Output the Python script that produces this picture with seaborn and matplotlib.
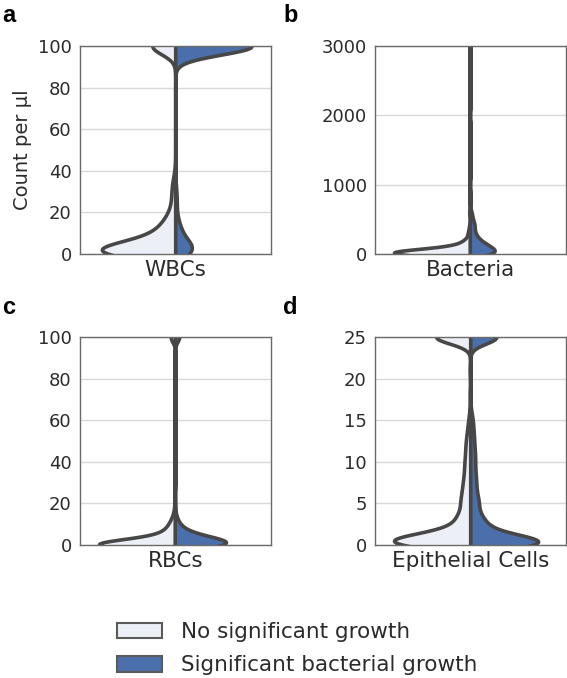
import numpy as np
import pandas as pd
import matplotlib
matplotlib.use("Agg")
import matplotlib.pyplot as plt
from matplotlib.patches import Patch
import seaborn as sns

# ---------------- data (counts per value) ----------------
groups = ["No significant growth", "Significant bacterial growth"]
colors = ["#ECEFF5", "#4B6FAA"]
edge_color = "#474747"

panel_letters = ["a", "b", "c", "d"]
measures = ["WBCs", "Bacteria", "RBCs", "Epithelial Cells"]
y_limits = [(0, 100), (0, 3000), (0, 100), (0, 25)]
y_ticks = [[0, 20, 40, 60, 80, 100], [0, 1000, 2000, 3000],
           [0, 20, 40, 60, 80, 100], [0, 5, 10, 15, 20, 25]]
kde_bw = [4, 50, 2.5, 0.8]

# WBCs
wbc_none_values = [0, 2, 4, 6, 8, 10, 12, 14, 16, 18, 20, 22, 24, 26, 28, 30, 32, 34, 37, 100]
wbc_none_counts = [36, 38, 18, 7, 6, 6, 5, 4, 3, 2, 2, 1, 1, 1, 1, 1, 1, 1, 1, 29]
wbc_sig_values = [0, 1, 2, 3, 4, 5, 6, 8, 10, 12, 15, 20, 25, 30, 96, 100,
                  120, 130, 140, 150, 160, 170, 180, 190, 200, 210, 220, 230]
wbc_sig_counts = [4, 4, 4, 4, 3, 2, 2, 2, 2, 2, 2, 1, 1, 1, 3, 100,
                  3, 3, 3, 3, 3, 3, 3, 3, 3, 3, 3, 3]

# Bacteria
bac_none_values = [0, 40, 100, 150, 200, 300, 400, 600, 1000, 2000, 3200]
bac_none_counts = [45, 35, 8, 4, 3, 2, 1, 1, 1, 1, 1]
bac_sig_values = [0, 50, 100, 150, 200, 250, 300, 350, 400, 450, 500, 550, 600,
                  4000, 5000, 6000, 8000, 10000]
bac_sig_counts = [14, 10, 9, 6, 4, 3, 2, 2, 2, 2, 1, 1, 1, 10, 10, 10, 10, 5]

# RBCs
rbc_none_values = [0, 2, 4, 6, 8, 10, 12, 14, 17, 20, 25, 100]
rbc_none_counts = [130, 22, 10, 9, 6, 4, 3, 2, 1, 1, 1, 9]
rbc_sig_values = [0, 2, 4, 6, 8, 10, 12, 15, 100, 150, 200, 300, 500]
rbc_sig_counts = [66, 32, 20, 8, 5, 3, 2, 1, 9, 10, 12, 15, 15]

# Epithelial cells
epi_none_values = [0, 0.5, 1, 1.5, 2, 2.5, 3, 3.5, 4, 5, 6, 7, 8, 9, 10, 11, 12, 13, 14, 15, 16, 18, 21, 25]
epi_none_counts = [60, 64, 36, 16, 10, 8, 8, 7, 7, 11, 9, 8, 7, 6, 6, 5, 5, 4, 3, 2, 1, 1, 1, 68]
epi_sig_values = [0, 0.5, 1, 1.5, 2, 2.5, 3, 3.5, 4, 5, 6, 7, 8, 9, 10, 11, 12, 13, 14, 15, 16,
                  25, 30, 40, 50, 60]
epi_sig_counts = [64, 56, 24, 10, 10, 9, 8, 5, 6, 10, 7, 6, 6, 5, 5, 5, 4, 4, 3, 3, 1,
                  52, 14, 14, 12, 10]

panel_data = [
    (wbc_none_values, wbc_none_counts, wbc_sig_values, wbc_sig_counts),
    (bac_none_values, bac_none_counts, bac_sig_values, bac_sig_counts),
    (rbc_none_values, rbc_none_counts, rbc_sig_values, rbc_sig_counts),
    (epi_none_values, epi_none_counts, epi_sig_values, epi_sig_counts),
]

# ---------------- style ----------------
sns.set_style("whitegrid")
plt.rcParams["font.family"] = ["DejaVu Sans"]
plt.rcParams["grid.color"] = "#d9d9d9"
plt.rcParams["grid.linewidth"] = 1.0
plt.rcParams["axes.edgecolor"] = "#6a6a6a"
plt.rcParams["axes.linewidth"] = 1.0
text_color = "#2b2b2b"

fig = plt.figure(figsize=(5.67, 6.78), dpi=100)
W, H = 567.0, 678.0
ax_w, ax_h = 190.5 / W, 208.0 / H
positions = [
    (80 / W, 1 - 254 / H),
    (375 / W, 1 - 254 / H),
    (80 / W, 1 - 545 / H),
    (375 / W, 1 - 545 / H),
]
letter_pos = [(2, 15), (283, 15), (2, 307), (283, 307)]

for i in range(4):
    nv, nc, sv, sc = panel_data[i]
    vals = np.concatenate([np.repeat(np.asarray(nv, float), nc),
                           np.repeat(np.asarray(sv, float), sc)])
    grp = [groups[0]] * int(np.sum(nc)) + [groups[1]] * int(np.sum(sc))
    df = pd.DataFrame({"measure": measures[i], "value": vals, "growth": grp})

    ax = fig.add_axes([positions[i][0], positions[i][1], ax_w, ax_h])
    bw = kde_bw[i]
    sns.violinplot(
        data=df, x="measure", y="value", hue="growth", hue_order=groups,
        palette=colors, saturation=1, split=True, inner=None, cut=2,
        gridsize=1000, bw_method=(lambda k, b=bw: b / k.dataset.std(ddof=1)),
        density_norm="area", common_norm=True, linewidth=2.6,
        linecolor=edge_color, legend=False, ax=ax,
    )
    for coll in ax.collections:
        coll.set_joinstyle("round")
        coll.set_capstyle("round")
    ax.set_xlim(-0.5, 0.5)
    ax.set_ylim(*y_limits[i])
    ax.set_yticks(y_ticks[i])
    ax.set_xlabel("")
    ax.set_ylabel("Count per μl" if i == 0 else "", fontsize=14, color=text_color, labelpad=4)
    ax.tick_params(axis="y", length=0, pad=6, labelsize=13, labelcolor=text_color)
    ax.tick_params(axis="x", length=0, pad=4, labelsize=15.5, labelcolor=text_color)
    ax.xaxis.grid(False)
    for s in ax.spines.values():
        s.set_visible(True)
        s.set_color("#6a6a6a")
        s.set_linewidth(1.0)
    fig.text(letter_pos[i][0] / W, 1 - letter_pos[i][1] / H, panel_letters[i],
             fontsize=17, fontweight="bold", family=["Liberation Sans", "DejaVu Sans"],
             ha="left", va="center", color="black")

handles = [Patch(facecolor=colors[0], edgecolor="#5a5a5a", linewidth=1.5, label=groups[0]),
           Patch(facecolor=colors[1], edgecolor="#5a5a5a", linewidth=1.5, label=groups[1])]
leg = fig.legend(handles=handles, loc="upper left", bbox_to_anchor=(117 / W, 1 - 622 / H),
                 frameon=False, fontsize=15.5, handlelength=2.1, handleheight=0.75,
                 handletextpad=0.85, labelspacing=0.62, borderpad=0, borderaxespad=0)
for t in leg.get_texts():
    t.set_color(text_color)

fig.savefig("out.png", dpi=100)
